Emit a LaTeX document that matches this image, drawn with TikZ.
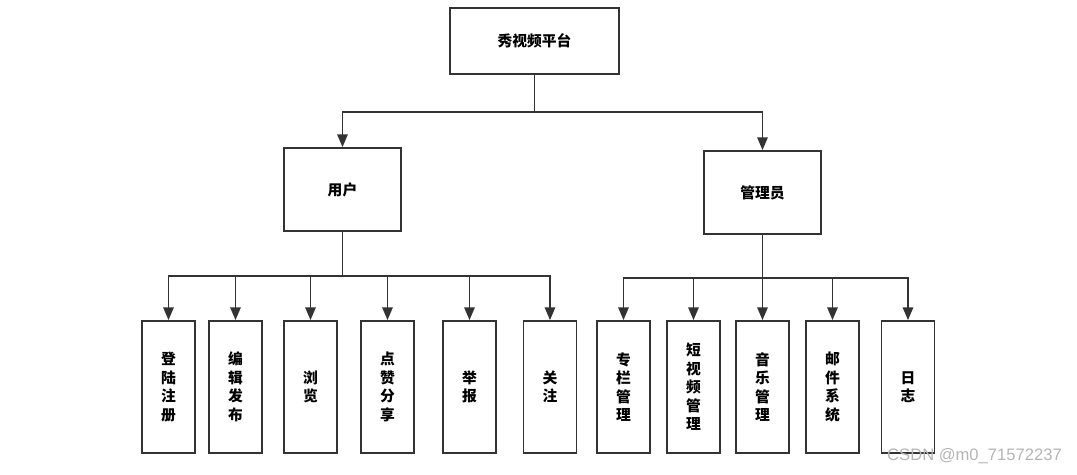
\documentclass[tikz,border=0pt]{standalone}
\usepackage{fontspec}
\newfontfamily\cjk{Noto Sans CJK SC}
\newfontfamily\wmfont{Liberation Sans}
\usepackage{tikz}
\usetikzlibrary{arrows.meta}
\definecolor{LineDefault}{HTML}{333333}
\definecolor{MarkGray}{HTML}{B4B4B4}

\begin{document}
\begin{tikzpicture}[x=0.025cm, y=-0.025cm,
    box/.style={draw=LineDefault, line width=1.2pt, align=center, inner sep=0pt,
        font=\cjk\bfseries\fontsize{10.5}{13.2}\selectfont},
    mid/.style={box, minimum width=2.925cm, minimum height=2.075cm},
    leaf/.style={box, minimum width=1.325cm, minimum height=3.3cm},
    conn/.style={LineDefault, line width=1.2pt, -{Triangle[length=0.32cm, width=0.26cm]}}]
    \useasboundingbox (0,0) rectangle (1077,474);
    %%Top levels
    \node[box, minimum width=4.225cm, minimum height=1.65cm] (plat) at (534.5,41) {秀视频平台};
    \node[mid] (user) at (342.5,189.5) {用户};
    \node[mid] (admin) at (762.5,192.5) {管理员};
    %%User side
    \node[leaf] (dl) at (168.5,387) {登\\陆\\注\\册};
    \node[leaf] (bj) at (235.5,387) {编\\辑\\发\\布};
    \node[leaf] (ll) at (310.5,387) {浏\\览};
    \node[leaf] (dz) at (387.5,387) {点\\赞\\分\\享};
    \node[leaf] (jb) at (469.5,387) {举\\报};
    \node[leaf] (gz) at (550,387) {关\\注};
    %%Admin side
    \node[leaf] (zl) at (623.5,387) {专\\栏\\管\\理};
    \node[leaf] (dsp) at (693.5,387) {短\\视\\频\\管\\理};
    \node[leaf] (yy) at (762.5,387) {音\\乐\\管\\理};
    \node[leaf] (yj) at (832.5,387) {邮\\件\\系\\统};
    \node[leaf] (rz) at (908,387) {日\\志};
    %%Connectors
    \draw[conn] (plat.south) -- ++(0,37) -| (user.north);
    \draw[conn] (plat.south) -- ++(0,37) -| (admin.north);
    \foreach \n in {dl,bj,ll,dz,jb,gz}
        \draw[conn] (user.south) -- ++(0,44) -| (\n.north);
    \foreach \n in {zl,dsp,yy,yj,rz}
        \draw[conn] (admin.south) -- ++(0,43) -| (\n.north);
    %%Watermark
    \node[text=MarkGray, font=\wmfont\fontsize{11.8}{14}\selectfont] (mark) at (974.5,456) {CSDN @m0\_71572237};
\end{tikzpicture}
\end{document}
